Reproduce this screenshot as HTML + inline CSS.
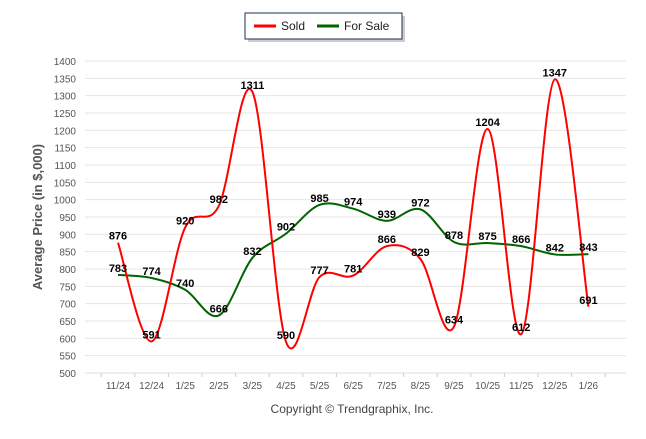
<!DOCTYPE html>
<html><head><meta charset="utf-8"><style>
body{margin:0;background:#fff;font-family:"Liberation Sans",Arial,sans-serif;}
svg text{font-family:"Liberation Sans",Arial,sans-serif;}
</style></head><body>
<svg id="c" width="646" height="434">
<g id="grid"></g><g id="series"></g><g id="labels"></g>
<g>
<rect x="248" y="16" width="157" height="26" fill="#999" opacity="0.5"/>
<rect x="245" y="13" width="157" height="26" fill="#fff" stroke="#1f3055" stroke-width="1"/>
<line x1="254" y1="26" x2="276" y2="26" stroke="#f00" stroke-width="3"/>
<text x="281" y="30" font-size="12" fill="#222">Sold</text>
<line x1="317" y1="26" x2="339" y2="26" stroke="#006400" stroke-width="3"/>
<text x="344" y="30" font-size="12" fill="#222">For Sale</text>
</g>
<text x="42" y="217" font-size="13" font-weight="bold" fill="#555" text-anchor="middle" transform="rotate(-90 42 217)">Average Price (in $,000)</text>
<text x="352" y="413" font-size="12" fill="#444" text-anchor="middle">Copyright © Trendgraphix, Inc.</text>
</svg>
<script>
const categories=["11/24","12/24","1/25","2/25","3/25","4/25","5/25","6/25","7/25","8/25","9/25","10/25","11/25","12/25","1/26"];
const sold=[876,591,920,982,1311,590,777,781,866,829,634,1204,612,1347,691];
const forSale=[783,774,740,666,832,902,985,974,939,972,878,875,866,842,843];
const yTicks=[500,550,600,650,700,750,800,850,900,950,1000,1050,1100,1150,1200,1250,1300,1350,1400];
const NS="http://www.w3.org/2000/svg";
const L=85,R=626,x0=118,dx=33.6;
const X=i=>x0+i*dx;
const Y=v=>373-(v-500)*(312/900);
function mk(t,a,p){const e=document.createElementNS(NS,t);for(const k in a)e.setAttribute(k,a[k]);p.appendChild(e);return e;}
const grid=document.getElementById('grid');
yTicks.forEach(v=>{
 const l=mk('line',{x1:L,x2:R,y1:Y(v),y2:Y(v),stroke:'#e6e6e6'},grid);
 
 
 const t=mk('text',{x:76,y:Y(v)+4,'font-size':10,fill:'#555','text-anchor':'end'},grid);t.textContent=v;
 
 
});
mk('line',{x1:L,x2:R,y1:Y(500),y2:Y(500),stroke:'#ddd'},grid);
for(let i=0;i<=categories.length;i++){mk('line',{x1:X(i)-dx/2,x2:X(i)-dx/2,y1:373,y2:377,stroke:'#ccc'},grid);}
categories.forEach((c,i)=>{
 const t=mk('text',{x:X(i),y:389,'font-size':10,fill:'#555','text-anchor':'middle'},grid);t.textContent=c;
 
 
});
function path(vals){
 const p=vals.map((v,i)=>[X(i),Y(v)]);let d='M'+p[0][0]+','+p[0][1];
 const k=1/6;
 for(let i=0;i<p.length-1;i++){
  const a=p[i-1]||p[i],b=p[i],c=p[i+1],e=p[i+2]||c;
  d+=' C'+(b[0]+(c[0]-a[0])*k)+','+(b[1]+(c[1]-a[1])*k)+' '+(c[0]-(e[0]-b[0])*k)+','+(c[1]-(e[1]-b[1])*k)+' '+c[0]+','+c[1];
 }
 return d;
}
const sg=document.getElementById('series'),lg=document.getElementById('labels');
const fs=mk('path',{d:path(forSale),fill:'none',stroke:'#006400','stroke-width':2},sg);


const sl=mk('path',{d:path(sold),fill:'none',stroke:'#f00','stroke-width':2},sg);


[[sold,'sold'],[forSale,'for-sale']].forEach(([arr,n])=>{
 arr.forEach((v,i)=>{
  const t=mk('text',{x:X(i),y:Y(v)-3,'font-size':11,'font-weight':'bold',fill:'#000','text-anchor':'middle'},lg);t.textContent=v;
  
  
 });
});
</script>
</body></html>
